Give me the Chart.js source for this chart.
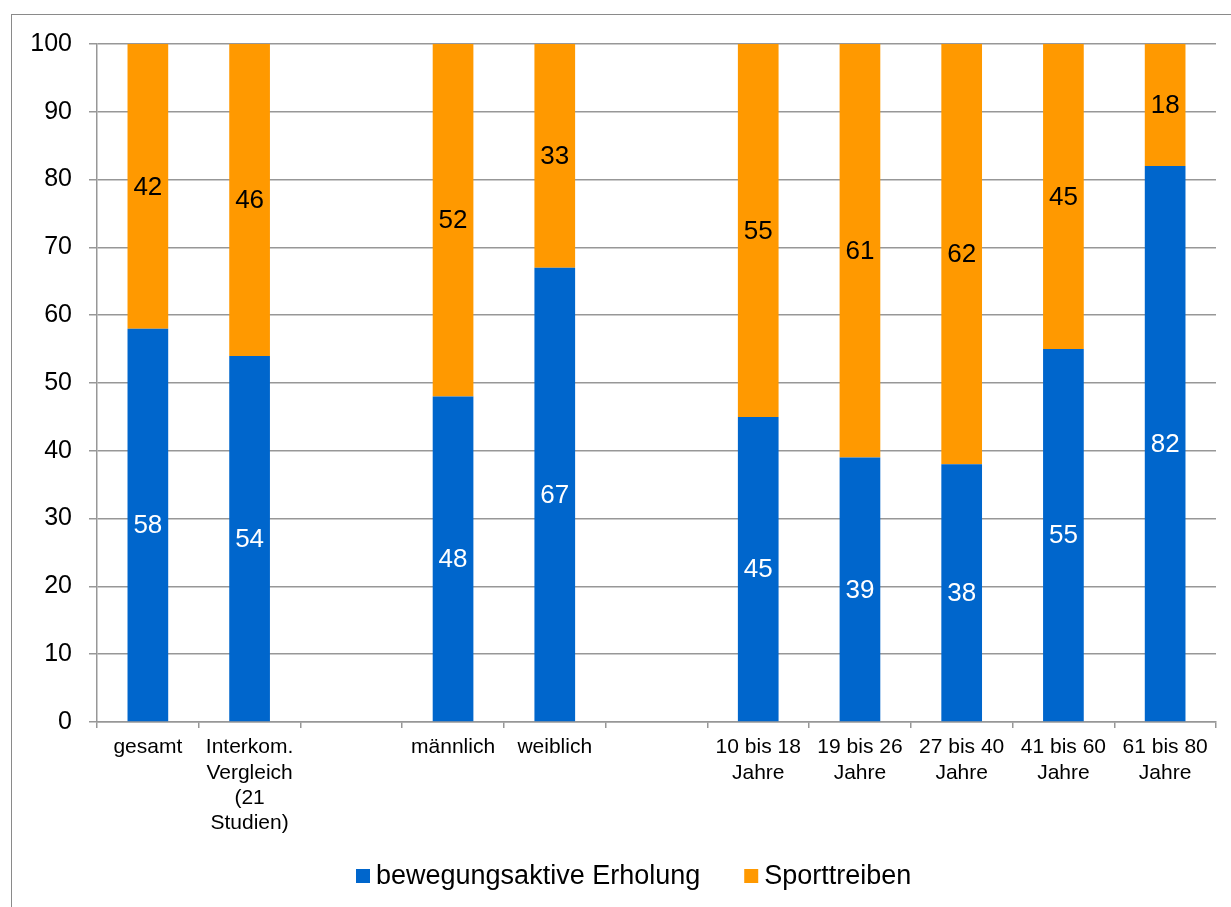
<!DOCTYPE html>
<html>
<head>
<meta charset="utf-8">
<script src="https://cdn.jsdelivr.net/npm/chart.js@4"></script>
<style>
  html, body { margin: 0; padding: 0; background: #fff; overflow: hidden; }
  #frame {
    position: absolute; left: 11px; top: 14px;
    width: 1400px; height: 1000px;
    border: 1px solid #8a8a8a;
  }
  #wrap { position: absolute; left: 0; top: 0; width: 1231px; height: 907px; }
</style>
</head>
<body>
<div id="frame"></div>
<div id="wrap"><canvas id="chart" width="1231" height="907"></canvas></div>
<script>
/* Freizeitaktivität: bewegungsaktive Erholung vs. Sporttreiben (in %) */

const categories = [
  ['gesamt'],
  ['Interkom.', 'Vergleich', '(21', 'Studien)'],
  [''],
  ['männlich'],
  ['weiblich'],
  [''],
  ['10 bis 18', 'Jahre'],
  ['19 bis 26', 'Jahre'],
  ['27 bis 40', 'Jahre'],
  ['41 bis 60', 'Jahre'],
  ['61 bis 80', 'Jahre'],
];

const erholung = [58, 54, null, 48, 67, null, 45, 39, 38, 55, 82];
const sport    = [42, 46, null, 52, 33, null, 55, 61, 62, 45, 18];

const yMin = 0, yMax = 100, yStep = 10;

const FONT  = "'Liberation Sans', Arial, Helvetica, sans-serif";
const BLUE  = '#0066cc';
const ORANGE = '#ff9900';
const GRID  = '#979797';

/* Zahlen mittig in die Segmente schreiben */
const segmentLabels = {
  id: 'segmentLabels',
  afterDatasetsDraw(chart) {
    const ctx = chart.ctx;
    ctx.save();
    ctx.font = '26px ' + FONT;
    ctx.textAlign = 'center';
    ctx.textBaseline = 'middle';
    chart.data.datasets.forEach((ds, di) => {
      const meta = chart.getDatasetMeta(di);
      meta.data.forEach((bar, i) => {
        const v = ds.data[i];
        if (v == null) return;
        ctx.fillStyle = di === 0 ? '#ffffff' : '#000000';
        ctx.fillText(String(v), bar.x, (bar.y + bar.base) / 2 + 1);
      });
    });
    ctx.restore();
  },
};

/* Legende unten, eigene Abstände */
const bottomLegend = {
  id: 'bottomLegend',
  afterDraw(chart) {
    const ctx = chart.ctx;
    const box = 14, gapText = 6, gapItem = 44, cy = 876;
    ctx.save();
    ctx.font = '27px ' + FONT;
    ctx.textBaseline = 'middle';
    const items = chart.data.datasets.map(ds => ({
      label: ds.label, color: ds.backgroundColor, w: ctx.measureText(ds.label).width,
    }));
    const total = items.reduce((s, it) => s + box + gapText + it.w, 0) + gapItem * (items.length - 1);
    let x = Math.round(634 - total / 2);
    items.forEach(it => {
      ctx.fillStyle = it.color;
      ctx.fillRect(x, cy - box / 2, box, box);
      ctx.fillStyle = '#000';
      ctx.fillText(it.label, x + box + gapText, cy + 1);
      x += box + gapText + it.w + gapItem;
    });
    ctx.restore();
  },
};

new Chart(document.getElementById('chart'), {
  type: 'bar',
  data: {
    labels: categories,
    datasets: [
      {
        label: 'bewegungsaktive Erholung',
        data: erholung,
        backgroundColor: BLUE,
        barPercentage: 0.4,
        categoryPercentage: 1,
      },
      {
        label: 'Sporttreiben',
        data: sport,
        backgroundColor: ORANGE,
        barPercentage: 0.4,
        categoryPercentage: 1,
      },
    ],
  },
  options: {
    responsive: false,
    animation: false,
    devicePixelRatio: 1,
    layout: { padding: { top: 44, right: 15, bottom: 0, left: 0 } },
    plugins: {
      legend: { display: false },
      tooltip: { enabled: false },
    },
    scales: {
      x: {
        stacked: true,
        afterFit: s => { s.height = 185; },
        grid: {
          offset: true,
          drawOnChartArea: false,
          drawTicks: true,
          tickLength: 6,
          color: GRID,
          lineWidth: 1.5,
        },
        border: { color: GRID, width: 1.5 },
        ticks: {
          color: '#000',
          font: { family: FONT, size: 21 },
          padding: 7,
          maxRotation: 0,
          autoSkip: false,
        },
      },
      y: {
        stacked: true,
        min: yMin,
        max: yMax,
        afterFit: s => { s.width = 97; },
        grid: { color: GRID, lineWidth: 1.5, tickLength: 8 },
        border: { color: GRID, width: 1.5 },
        ticks: {
          stepSize: yStep,
          color: '#000',
          font: { family: FONT, size: 25 },
          padding: 17,
        },
      },
    },
  },
  plugins: [segmentLabels, bottomLegend],
});
</script>
</body>
</html>
